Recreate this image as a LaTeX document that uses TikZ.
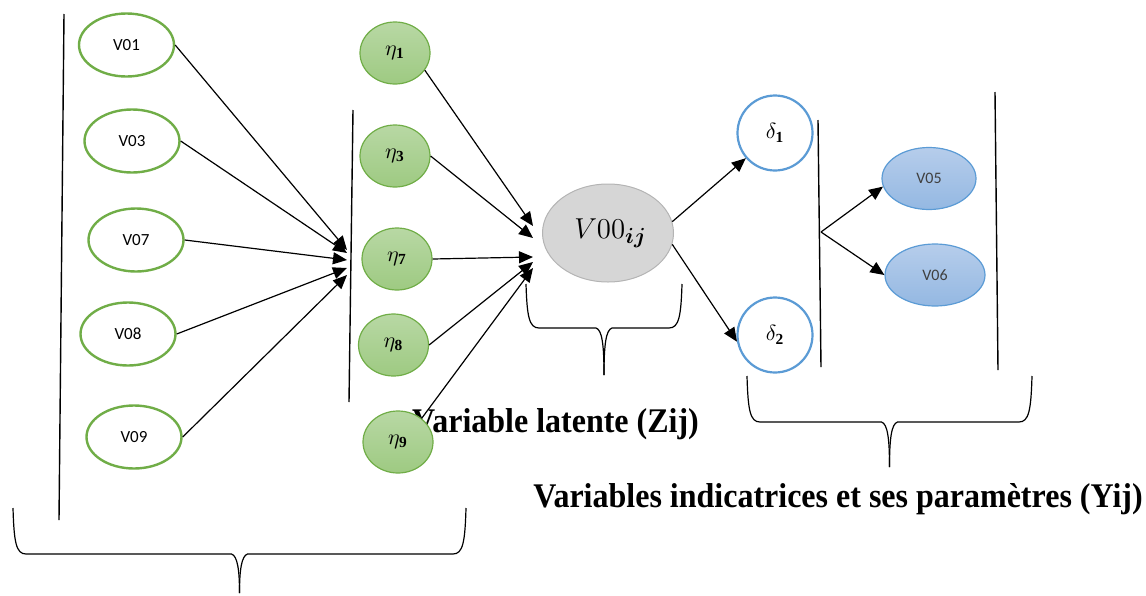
\documentclass[tikz,border=0pt]{standalone}
\usepackage{amsmath,amssymb}
\usepackage{fontspec}
\setmainfont{Liberation Serif}
\newfontfamily\calfont{Carlito}
\usetikzlibrary{arrows.meta,calc,shapes.geometric}
\definecolor{vgreen}{HTML}{70AD47}
\definecolor{etatop}{HTML}{B8D8A4}
\definecolor{etabot}{HTML}{9ECA82}
\definecolor{vblue}{HTML}{5B9BD5}
\definecolor{obstop}{HTML}{B6CDEB}
\definecolor{obsbot}{HTML}{94B8E2}
\definecolor{latgray}{HTML}{D6D6D6}
\definecolor{latedge}{HTML}{B4B4B4}

\begin{document}
\begin{tikzpicture}[
  x=0.5pt,y=-0.5pt,
  vnode/.style={ellipse,draw=vgreen,line width=1.2pt,fill=white,minimum width=47.5pt,minimum height=31.5pt,inner sep=0pt,font=\calfont\fontsize{8.5}{10}\selectfont},
  etanode/.style={ellipse,draw=vgreen,line width=0.6pt,top color=etatop,bottom color=etabot,minimum width=35pt,minimum height=31pt,inner sep=0pt,font=\fontsize{11}{13}\selectfont},
  latnode/.style={ellipse,draw=latedge,line width=0.5pt,fill=latgray,minimum width=65.5pt,minimum height=49pt,inner sep=0pt,font=\fontsize{15}{17}\selectfont},
  dnode/.style={circle,draw=vblue,line width=1.1pt,fill=white,minimum size=37.5pt,inner sep=0pt,font=\fontsize{11}{13}\selectfont},
  obsnode/.style={ellipse,draw=vblue,line width=0.6pt,top color=obstop,bottom color=obsbot,minimum height=31pt,inner sep=0pt,font=\calfont\fontsize{8}{9}\selectfont,text=black!75},
  arr/.style={-{Triangle[length=7pt,width=6pt]},line width=0.6pt},
  vline/.style={line width=0.7pt},
  brace/.style={line width=0.6pt},
  title/.style={font=\bfseries\fontsize{16}{19}\selectfont,anchor=base,inner sep=0pt,yscale=1.08}
]
\useasboundingbox (0,0) rectangle (1146,595);

% titles under the braces
\node[title] (zlab) at (555.5,432) {Variable latente (Zij)};
\node[title] (ylab) at (838,507) {Variables indicatrices et ses param\`etres (Yij)};

% separating lines
\draw[vline] (64,14) -- (59,520);
\draw[vline] (353,110) -- (349,402);
\draw[vline] (818,120) -- (821,367);
\draw[vline] (995,92) -- (998,370);

% observed variables
\node[vnode] (v01) at (126.5,45) {V01};
\node[vnode] (v03) at (132,141) {V03};
\node[vnode] (v07) at (136,240) {V07};
\node[vnode] (v08) at (128,334) {V08};
\node[vnode] (v09) at (134,437) {V09};

% parameters
\node[etanode] (eta1) at (395,53) {$\eta_{\mathbf{1}}$};
\node[etanode] (eta3) at (395,156) {$\eta_{\mathbf{3}}$};
\node[etanode] (eta7) at (397,259) {$\eta_{\mathbf{7}}$};
\node[etanode] (eta8) at (393.5,345) {$\eta_{\mathbf{8}}$};
\node[etanode] (eta9) at (398,442) {$\eta_{\mathbf{9}}$};

% latent variable and indicators
\node[latnode] (v00) at (608,233) {\,$V00_{\boldsymbol{ij}}$};
\node[dnode] (d1) at (775,133) {$\delta_{\mathbf{1}}$};
\node[dnode] (d2) at (775,335) {$\delta_{\mathbf{2}}$};
\node[obsnode,minimum width=47pt] (v05) at (929,178.5) {V05};
\node[obsnode,minimum width=50pt] (v06) at (935,275) {V06};

\coordinate (hubL) at (347,262);
\coordinate (hubR) at (533,248);
\coordinate (split) at (821,232);

\foreach \n/\dy in {v01/-12,v03/-9,v07/-2,v08/6,v09/13}
  \draw[arr] (\n.east) -- ($(hubL)+(0,\dy)$);
\foreach \n/\a/\dy in {eta1/-30/-22,eta3/0/-10,eta7/0/9,eta8/0/14,eta9/45/20}
  \draw[arr] (\n.\a) -- ($(hubR)+(0,\dy)$);

\draw[arr] (v00.10) -- (d1);
\draw[arr] (v00.-10) -- (d2.190);
\draw[arr] (split) -- (v05.190);
\draw[arr] (split) -- (v06.west);

% braces
\foreach \xl/\xr/\yt/\yh/\yp in {13/466/508/554/593,526/682/284/328/375,747/1032/376/422/467}{
  \pgfmathsetmacro\xm{(\xl+\xr)/2}
  \draw[brace] (\xl,\yt) .. controls (\xl+1,\yh-12) and (\xl+3,\yh) .. (\xl+13,\yh)
    -- (\xm-8,\yh) .. controls (\xm-2,\yh+2) and (\xm,\yh+16) .. (\xm,\yp);
  \draw[brace] (\xr,\yt) .. controls (\xr-1,\yh-12) and (\xr-3,\yh) .. (\xr-13,\yh)
    -- (\xm+8,\yh) .. controls (\xm+2,\yh+2) and (\xm,\yh+16) .. (\xm,\yp);
}
\end{tikzpicture}
\end{document}
